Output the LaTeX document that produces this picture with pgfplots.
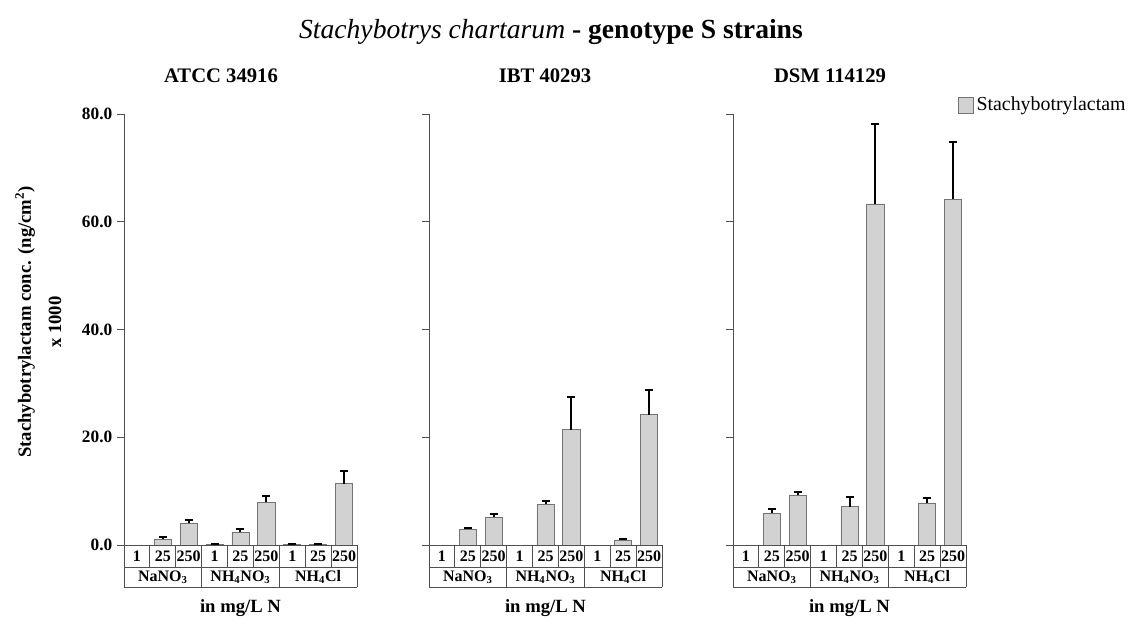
\documentclass[border=0pt]{standalone}
\usepackage{fontspec}
\setmainfont{Liberation Serif}
\usepackage{pgfplots}
\usepackage{pgfplotstable}
\pgfplotsset{compat=1.18}

% mean and standard deviation per strain (x 1000 ng/cm^2); x = medium/concentration index
\pgfplotstableread{
x  y     e
1  1.1   0.35
2  4.0   0.6
3  0.1   0.05
4  2.4   0.6
5  7.9   1.2
6  0.15  0.12
7  0.1   0.08
8  11.4  2.4
}\atcc
\pgfplotstableread{
x  y     e
1  2.9   0.2
2  5.2   0.5
4  7.6   0.5
5  21.4  6.1
7  0.9   0.3
8  24.2  4.5
}\ibt
\pgfplotstableread{
x  y     e
1  5.9   0.7
2  9.3   0.6
4  7.1   1.8
5  63.3  14.8
7  7.8   1.0
8  64.2  10.6
}\dsm

\definecolor{barfill}{RGB}{210,210,210}
\definecolor{baredge}{RGB}{115,115,115}
\definecolor{linegray}{RGB}{80,80,80}

\newcommand{\labfont}{\fontsize{14}{16}\selectfont\bfseries}
\newcommand{\cellfont}{\fontsize{12}{13}\selectfont\bfseries}

% category table under each panel
\newcommand{\nitrogentable}{%
  \draw[linegray, line width=0.6pt] (axis cs:-0.5,0) -- (axis cs:8.5,0);
  \draw[linegray, line width=0.6pt] (axis cs:-0.5,-4.083) -- (axis cs:8.5,-4.083);
  \draw[linegray, line width=0.6pt] (axis cs:-0.5,-7.8) -- (axis cs:8.5,-7.8);
  \pgfplotsinvokeforeach{-0.5,0.5,1.5,2.5,3.5,4.5,5.5,6.5,7.5,8.5}{%
    \draw[linegray, line width=0.6pt] (axis cs:##1,0) -- (axis cs:##1,-4.083);}
  \pgfplotsinvokeforeach{-0.5,2.5,5.5,8.5}{%
    \draw[linegray, line width=0.6pt] (axis cs:##1,-4.083) -- (axis cs:##1,-7.8);}
  \pgfplotsinvokeforeach{0,3,6}{%
    \node[font=\cellfont, inner sep=0pt] at (axis cs:##1,-2.04) {1};}
  \pgfplotsinvokeforeach{1,4,7}{%
    \node[font=\cellfont, inner sep=0pt] at (axis cs:##1,-2.04) {25};}
  \pgfplotsinvokeforeach{2,5,8}{%
    \node[font=\cellfont, inner sep=0pt] at (axis cs:##1,-2.04) {250};}
  \node[font=\cellfont, inner sep=0pt] at (axis cs:1,-5.94) {NaNO\textsubscript{3}};
  \node[font=\cellfont, inner sep=0pt] at (axis cs:4,-5.94) {NH\textsubscript{4}NO\textsubscript{3}};
  \node[font=\cellfont, inner sep=0pt] at (axis cs:7,-5.94) {NH\textsubscript{4}Cl};
  \node[font=\labfont, inner sep=0pt] at (axis cs:4,-11.69) {in mg/L N};
}

\pgfplotsset{
  panel/.style={
    width=174.75pt, height=323.25pt, scale only axis,
    anchor=south west,
    xmin=-0.5, xmax=8.5, ymin=0, ymax=80,
    axis x line=none, axis y line*=left,
    xtick=\empty,
    ytick={0,20,40,60,80},
    tick align=outside, major tick length=5.25pt,
    y axis line style={linegray, line width=0.6pt},
    ytick style={linegray, line width=0.6pt},
    yticklabel style={font=\fontsize{13}{15}\selectfont\bfseries,
      /pgf/number format/.cd, fixed, fixed zerofill, precision=1,
      assume math mode=true},
    clip=false,
    ybar, bar width=0.66,
  },
  bars/.style={
    fill=barfill, draw=baredge, line width=0.6pt,
    error bars/.cd, y dir=plus, y explicit,
    error bar style={black, line width=1.5pt},
    error mark options={black, line width=1.5pt, mark size=3pt, rotate=90},
  },
}

\begin{document}
\begin{tikzpicture}
\useasboundingbox (0,0) rectangle (847.5pt,464.25pt);

% chart title
\node[anchor=base, inner sep=0pt, font=\fontsize{20.7}{24}\selectfont]
  at (413.25pt,435pt) {\textit{Stachybotrys chartarum} \textbf{- genotype S strains}};

% shared y-axis label
\node[rotate=90, font=\labfont, align=center, inner sep=0pt]
  at (18.75pt,222.75pt) {Stachybotrylactam conc. (ng/cm\textsuperscript{2})};
\node[rotate=90, font=\labfont, inner sep=0pt]
  at (41.25pt,222.75pt) {x 1000};

% strain headings
\node[anchor=base, inner sep=0pt, font=\fontsize{15.5}{17}\selectfont\bfseries]
  at (165.75pt,402.75pt) {ATCC 34916};
\node[anchor=base, inner sep=0pt, font=\fontsize{15.5}{17}\selectfont\bfseries]
  at (408.75pt,402.75pt) {IBT 40293};
\node[anchor=base, inner sep=0pt, font=\fontsize{15.5}{17}\selectfont\bfseries]
  at (622.5pt,402.75pt) {DSM 114129};

\begin{axis}[panel, at={(93pt,55.5pt)}]
  \addplot[bars] table[x=x, y=y, y error=e] {\atcc};
  \nitrogentable
\end{axis}

\begin{axis}[panel, at={(321.75pt,55.5pt)}, yticklabels={}]
  \addplot[bars] table[x=x, y=y, y error=e] {\ibt};
  \nitrogentable
\end{axis}

\begin{axis}[panel, at={(549.75pt,55.5pt)}, yticklabels={},
  legend style={at={(0.965,1.021)}, anchor=west, draw=none, fill=none,
    inner sep=0pt, font=\fontsize{14.9}{17}\selectfont,
    legend cell align=left},
  legend image code/.code={\draw[fill=barfill, draw=baredge, line width=0.6pt]
    (0pt,-6pt) rectangle (11.25pt,6pt);},
]
  \addplot[bars] table[x=x, y=y, y error=e] {\dsm};
  \addlegendentry{Stachybotrylactam}
  \nitrogentable
\end{axis}
\end{tikzpicture}
\end{document}
